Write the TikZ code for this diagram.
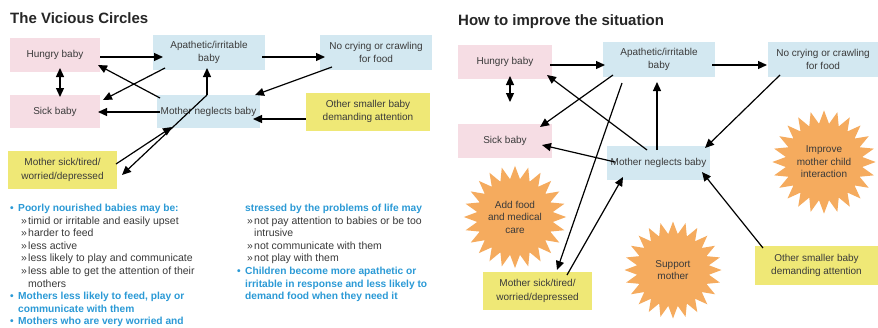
\documentclass[tikz,border=0pt]{standalone}
\usepackage{fontspec}
\setmainfont{Liberation Sans}
\usetikzlibrary{arrows.meta,shapes.geometric,calc}
\definecolor{pinkbox}{HTML}{F6DDE4}
\definecolor{bluebox}{HTML}{D3E8F1}
\definecolor{yellowbox}{HTML}{EFE876}
\definecolor{orangestar}{HTML}{F5AB5E}
\definecolor{bodyblue}{HTML}{2B9AD6}
\definecolor{ink}{HTML}{3A3A3A}
\begin{document}
\begin{tikzpicture}[x=1pt,y=-1pt,
  box/.style={rectangle, inner sep=1pt, align=center, text=ink,
    font=\fontsize{10}{13.5}\selectfont},
  pinkb/.style={box, fill=pinkbox},
  blueb/.style={box, fill=bluebox},
  yellowb/.style={box, fill=yellowbox},
  burst/.style={star, star points=24, star point ratio=1.34, minimum size=97,
    inner sep=0, fill=orangestar, draw=none, align=center, text=ink,
    font=\fontsize{10}{12.5}\selectfont},
  conn/.style={line width=1.2pt, -{Triangle[length=9pt,width=8pt]}},
  both/.style={line width=1.2pt, {Triangle[length=9pt,width=8pt]}-{Triangle[length=9pt,width=8pt]}},
  ttl/.style={anchor=base west, inner sep=0, font=\fontsize{15}{18}\selectfont\bfseries, text=black!85},
  bl/.style={anchor=base west, inner sep=0, font=\fontsize{10.2}{12}\selectfont\bfseries, text=bodyblue},
  sb/.style={anchor=base west, inner sep=0, font=\fontsize{10.5}{12}\selectfont, text=ink},
]
\useasboundingbox[fill=white] (0,0) rectangle (878,327);

% ---------------- left panel: the vicious circles ----------------
\node[ttl] (titleL) at (10,23) {The Vicious Circles};

\node[pinkb, minimum width=90, minimum height=34] (hungL) at (55,55) {Hungry baby};
\node[blueb, minimum width=112, minimum height=35] (apaL) at (209,52.5) {Apathetic/irritable\\baby};
\node[blueb, minimum width=112, minimum height=35] (nocL) at (376,52.5) {No crying or crawling\\for food};
\node[pinkb, minimum width=90, minimum height=33] (sickL) at (55,111.5) {Sick baby};
\node[blueb, minimum width=103, minimum height=33] (negL) at (208.5,111.5) {Mother neglects baby};
\node[yellowb, minimum width=124, minimum height=38] (othL) at (368,111.5) {Other smaller baby\\demanding attention};
\node[yellowb, minimum width=109, minimum height=38] (msL) at (62.5,170) {Mother sick/tired/\\worried/depressed};

\coordinate (forkL) at ($(negL)+(-1.5,-16.5)$);

\draw[conn] ($(hungL)+(45,2)$) -- ($(apaL)+(-46,4.5)$);
\draw[conn] ($(apaL)+(53,4.5)$) -- ($(nocL)+(-51,4.5)$);
\draw[both] ($(hungL)+(5,13)$) -- ($(sickL)+(5,-14.5)$);
\draw[conn] ($(apaL)+(-44,15.5)$) -- ($(sickL)+(48,-11.5)$);
\draw[conn] ($(negL)+(-48.5,-13.5)$) -- ($(hungL)+(43,10)$);
\draw[conn] ($(nocL)+(-44,14.5)$) -- ($(negL)+(46.5,-16.5)$);
\draw[conn] ($(negL)+(-48.5,0.5)$) -- ($(sickL)+(43,0.5)$);
\draw[conn] ($(othL)+(-62,7.5)$) -- ($(negL)+(44.5,7.5)$);
\draw[conn] ($(msL)+(53.5,-6)$) -- ($(negL)+(-36.5,15.5)$);
\draw[conn] (forkL) -- ($(apaL)+(-2,15.5)$);
\draw[conn] (forkL) -- ($(msL)+(59.5,5)$);

% notes below the left diagram
\node[bl] (n1) at (10,211.5) {\makebox[8pt][l]{•}Poorly nourished babies may be:};
\node[sb] (n2) at (21,224.1) {\makebox[7pt][l]{»}timid or irritable and easily upset};
\node[sb] (n3) at (21,236.7) {\makebox[7pt][l]{»}harder to feed};
\node[sb] (n4) at (21,249.3) {\makebox[7pt][l]{»}less active};
\node[sb] (n5) at (21,261.9) {\makebox[7pt][l]{»}less likely to play and communicate};
\node[sb] (n6) at (21,274.5) {\makebox[7pt][l]{»}less able to get the attention of their};
\node[sb] (n7) at (28,287.1) {mothers};
\node[bl] (n8) at (10,299.7) {\makebox[8pt][l]{•}Mothers less likely to feed, play or};
\node[bl] (n9) at (18,312.3) {communicate with them};
\node[bl] (n10) at (10,324.9) {\makebox[8pt][l]{•}Mothers who are very worried and};

\node[bl] (m1) at (245,211.5) {stressed by the problems of life may};
\node[sb] (m2) at (247,224.1) {\makebox[7pt][l]{»}not pay attention to babies or be too};
\node[sb] (m3) at (254,236.7) {intrusive};
\node[sb] (m4) at (247,249.3) {\makebox[7pt][l]{»}not communicate with them};
\node[sb] (m5) at (247,261.9) {\makebox[7pt][l]{»}not play with them};
\node[bl] (m6) at (237,274.5) {\makebox[8pt][l]{•}Children become more apathetic or};
\node[bl] (m7) at (245,287.1) {irritable in response and less likely to};
\node[bl] (m8) at (245,299.7) {demand food when they need it};

% ---------------- right panel: how to improve ----------------
\node[ttl] (titleR) at (458,25) {How to improve the situation};

\node[pinkb, minimum width=94, minimum height=34] (hungR) at (505,62) {Hungry baby};
\node[blueb, minimum width=112, minimum height=35] (apaR) at (659,59.5) {Apathetic/irritable\\baby};
\node[blueb, minimum width=110, minimum height=35] (nocR) at (823,59.5) {No crying or crawling\\for food};
\node[pinkb, minimum width=94, minimum height=34] (sickR) at (505,141) {Sick baby};
\node[blueb, minimum width=103, minimum height=34] (negR) at (658.5,163) {Mother neglects baby};
\node[yellowb, minimum width=109, minimum height=38] (msR) at (537.5,291) {Mother sick/tired/\\worried/depressed};
\node[yellowb, minimum width=123, minimum height=39] (othR) at (816.5,265.5) {Other smaller baby\\demanding attention};

\node[burst] (foodR) at (515,217) {Add food\\and medical\\care};
\node[burst] (supR) at (673,270) {Support\\mother};
\node[burst] (impR) at (824,162) {Improve\\mother child\\interaction};

\draw[conn] ($(hungR)+(45,3)$) -- ($(apaR)+(-54,5.5)$);
\draw[conn] ($(apaR)+(53,5.5)$) -- ($(nocR)+(-56,5.5)$);
\draw[both] ($(hungR)+(5,14)$) -- ($(sickR)+(5,-39)$);
\draw[conn] ($(apaR)+(-46,15.5)$) -- ($(sickR)+(35,-14)$);
\draw[conn] ($(negR)+(-11.5,-13)$) -- ($(hungR)+(42,13)$);
\draw[conn] ($(negR)+(-1.5,-13)$) -- ($(apaR)+(-2,22.5)$);
\draw[conn] ($(nocR)+(-43,15.5)$) -- ($(negR)+(46.5,-15)$);
\draw[conn] ($(negR)+(-43.5,-1)$) -- ($(sickR)+(37,4)$);
\draw[conn] ($(apaR)+(-37,23.5)$) -- ($(msR)+(19.5,-21)$);
\draw[conn] ($(msR)+(29.5,-16)$) -- ($(negR)+(-35.5,14)$);
\draw[conn] ($(othR)+(-53.5,-17.5)$) -- ($(negR)+(43.5,9)$);
\end{tikzpicture}
\end{document}
